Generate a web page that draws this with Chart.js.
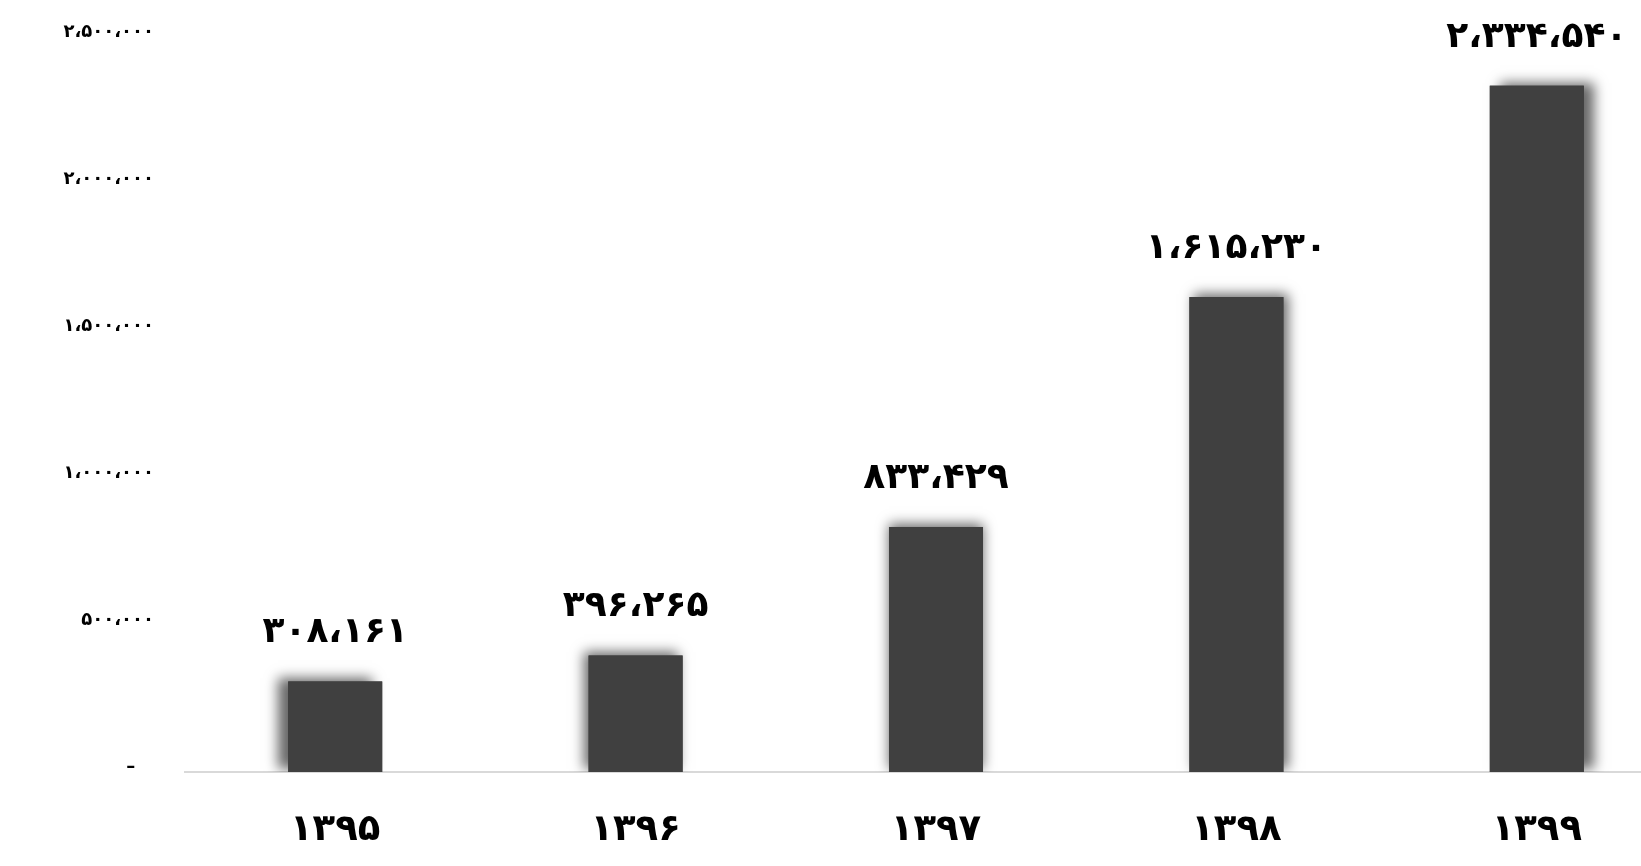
<!DOCTYPE html>
<html>
<head>
<meta charset="utf-8">
<script src="https://cdn.jsdelivr.net/npm/chart.js@4/dist/chart.umd.min.js"></script>
<style>
  html, body { margin: 0; padding: 0; background: #ffffff; overflow: hidden; }
  #wrap { width: 1641px; height: 866px; overflow: hidden; position: relative; }
  canvas { display: block; }
</style>
</head>
<body>
<div id="wrap"><canvas id="c" width="1687" height="866"></canvas></div>
<script>
const categories = ['۱۳۹۵', '۱۳۹۶', '۱۳۹۷', '۱۳۹۸', '۱۳۹۹'];
const values = [308161, 396265, 833429, 1615230, 2334540];
const valueLabels = ['۳۰۸،۱۶۱', '۳۹۶،۲۶۵', '۸۳۳،۴۲۹', '۱،۶۱۵،۲۳۰', '۲،۳۳۴،۵۴۰'];
const yTickValues = [0, 500000, 1000000, 1500000, 2000000, 2500000];
const yTickLabels = ['–   ', '۵۰۰،۰۰۰', '۱،۰۰۰،۰۰۰', '۱،۵۰۰،۰۰۰', '۲،۰۰۰،۰۰۰', '۲،۵۰۰،۰۰۰'];

const FONT = '"DejaVu Sans", sans-serif';
const BAR_COLOR = '#404040';

const shadowPlugin = {
  id: 'barShadow',
  beforeDatasetsDraw(chart) {
    const ctx = chart.ctx;
    const area = chart.chartArea;
    const meta = chart.getDatasetMeta(0);
    const mid = (meta.data.length - 1) / 2;
    ctx.save();
    ctx.beginPath();
    ctx.rect(area.left - 40, 0, area.right - area.left + 80, area.bottom);
    ctx.clip();
    meta.data.forEach((el, i) => {
      const p = el.getProps(['x', 'y', 'base', 'width'], true);
      ctx.save();
      ctx.shadowColor = 'rgba(0,0,0,0.6)';
      ctx.shadowBlur = 12;
      ctx.shadowOffsetX = (i - mid) * 5;
      ctx.shadowOffsetY = -3;
      ctx.fillStyle = BAR_COLOR;
      ctx.fillRect(p.x - p.width / 2, p.y, p.width, p.base - p.y);
      ctx.restore();
    });
    ctx.restore();
  }
};

const labelPlugin = {
  id: 'valueLabels',
  afterDatasetsDraw(chart) {
    const ctx = chart.ctx;
    const meta = chart.getDatasetMeta(0);
    ctx.save();
    ctx.font = 'bold 36px ' + FONT;
    ctx.fillStyle = '#000000';
    ctx.textAlign = 'center';
    ctx.textBaseline = 'alphabetic';
    meta.data.forEach((el, i) => {
      const p = el.getProps(['x', 'y'], true);
      ctx.fillText(valueLabels[i], p.x, p.y - 39);
    });
    ctx.restore();
  }
};

new Chart(document.getElementById('c'), {
  type: 'bar',
  data: {
    labels: categories,
    datasets: [{
      data: values,
      backgroundColor: BAR_COLOR,
      borderWidth: 0,
      barPercentage: 0.313,
      categoryPercentage: 1.0
    }]
  },
  options: {
    responsive: false,
    animation: false,
    devicePixelRatio: 1,
    layout: { padding: { top: 37, right: 0, bottom: 0, left: 0 } },
    plugins: {
      legend: { display: false },
      tooltip: { enabled: false }
    },
    scales: {
      x: {
        afterFit(scale) { scale.height = 94; },
        grid: { display: false, drawTicks: false },
        border: { display: true, color: '#d9d9d9', width: 2 },
        ticks: {
          color: '#000000',
          font: { family: FONT, size: 37, weight: 'bold' },
          padding: 36
        }
      },
      y: {
        min: 0,
        max: 2500000,
        afterBuildTicks(scale) {
          scale.ticks = yTickValues.map(v => ({ value: v }));
        },
        afterFit(scale) { scale.width = 185; scale.paddingTop = 0; },
        grid: { display: false, drawTicks: false },
        border: { display: false },
        ticks: {
          color: '#000000',
          font: { family: FONT, size: 18, weight: 'bold' },
          padding: 31,
          labelOffset: -5,
          callback: (v, i) => yTickLabels[i]
        }
      }
    }
  },
  plugins: [shadowPlugin, labelPlugin]
});
</script>
</body>
</html>
